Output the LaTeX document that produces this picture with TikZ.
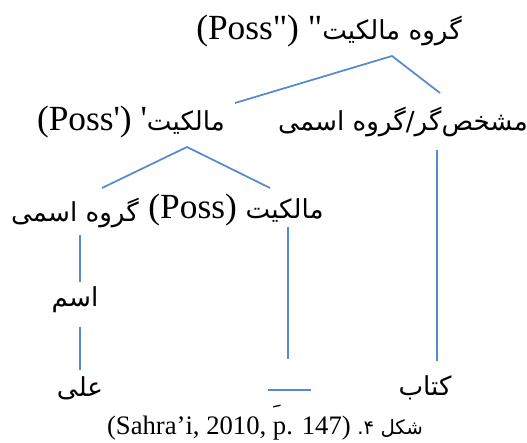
\documentclass[tikz,border=0pt]{standalone}
\usepackage{fontspec}
\setmainfont{Liberation Serif}
\newfontfamily\arabicfont[Script=Arabic,Scale=0.74]{DejaVu Sans}
\TeXXeTstate=1
\definecolor{branchblue}{RGB}{85,138,205}
\newcommand{\fa}[1]{{\arabicfont\beginR #1\endR}}

\begin{document}
\begin{tikzpicture}[x=0.75pt, y=-0.75pt, font=\fontsize{26.5}{30}\selectfont]
    \tikzstyle{lbl}=[inner sep=0pt, anchor=center]
    \tikzstyle{branch}=[draw=branchblue, line width=1.3pt]
    \useasboundingbox (0,0) rectangle (527,442);

    % labels of the tree
    \node[lbl] (possbar2) at (329,31) {(Poss\textquotedbl) \textquotedbl\fa{گروه مالکیت}};
    \node[lbl] (possbar) at (131,122) {(Poss\textquotesingle) \textquotesingle\fa{مالکیت}};
    \node[lbl] (spec) at (403,122) {\fa{مشخص‌گر/گروه اسمی}};
    \node[lbl] (np) at (75,213) {\fa{گروه اسمی}};
    \node[lbl] (poss) at (236,210) {(Poss) \fa{مالکیت}};
    \node[lbl] (noun) at (75,300) {\fa{اسم}};
    \node[lbl] (ali) at (80,388) {\fa{علی}};
    \node[lbl] (ketab) at (425,388) {\fa{کتاب}};
    \node[lbl] (ezafe) at (277,406) {\fa{\char"FE7A}};
    \node[lbl] (caption) at (265,428) {\fontsize{20}{23}\selectfont (Sahra’i, 2010, p. 147) \fa{شکل ۴.}};

    % branch ends
    \coordinate (possbar2-b) at (392,56);
    \coordinate (possbar-t) at (235,103);
    \coordinate (spec-t) at (440,93);
    \coordinate (spec-b) at (437,150);
    \coordinate (ketab-t) at (437,361);
    \coordinate (possbar-b) at (187,147);
    \coordinate (np-t) at (102,188);
    \coordinate (poss-t) at (270,188);
    \coordinate (np-b) at (80,235);
    \coordinate (noun-t) at (80,282);
    \coordinate (noun-b) at (80,327);
    \coordinate (ali-t) at (80,370);
    \coordinate (poss-b) at (288,227);
    \coordinate (gap-t) at (288,359);
    \coordinate (gap-l) at (268,390);
    \coordinate (gap-r) at (311,390);

    \draw[branch] (possbar-t) -- (possbar2-b) -- (spec-t);
    \draw[branch] (spec-b) -- (ketab-t);
    \draw[branch] (np-t) -- (possbar-b) -- (poss-t);
    \draw[branch] (np-b) -- (noun-t);
    \draw[branch] (noun-b) -- (ali-t);
    \draw[branch] (poss-b) -- (gap-t);
    \draw[branch] (gap-l) -- (gap-r);
\end{tikzpicture}
\end{document}
